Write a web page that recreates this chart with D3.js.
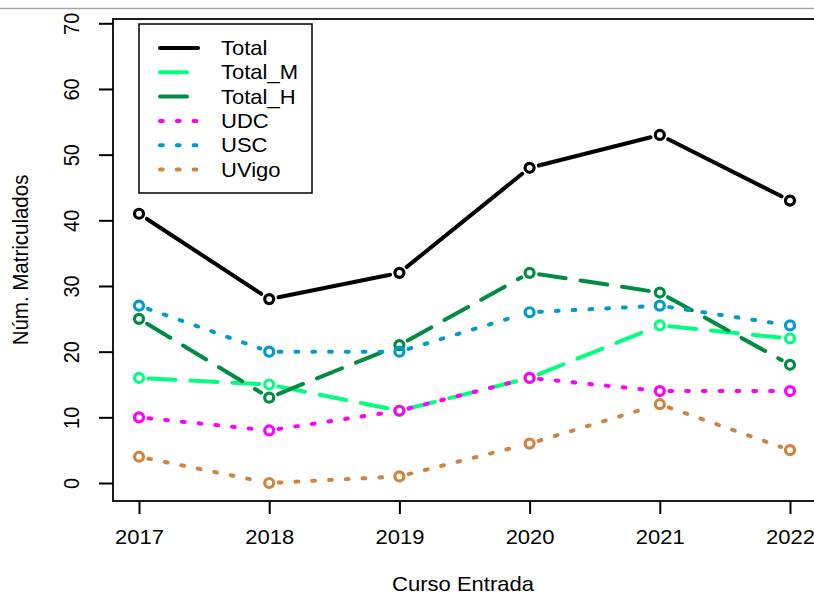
<!DOCTYPE html>
<html><head><meta charset="utf-8">
<script src="https://cdn.jsdelivr.net/npm/d3@7"></script>
<style>body{margin:0;background:#fff}svg{display:block}text{font-family:"Liberation Sans",Arial,sans-serif;fill:#000}</style>
</head><body><svg id="c" width="814" height="595"></svg>
<script>
const years = [2017, 2018, 2019, 2020, 2021, 2022];
const total   = [41, 28, 32, 48, 53, 43];
const totalM  = [16, 15, 11, 16, 24, 22];
const totalH  = [25, 13, 21, 32, 29, 18];
const udc     = [10, 8, 11, 16, 14, 14];
const usc     = [27, 20, 20, 26, 27, 24];
const uvigo   = [4, 0, 1, 6, 12, 5];
const yTicks  = [0, 10, 20, 30, 40, 50, 60, 70];
const seriesNames = ["Total", "Total_M", "Total_H", "UDC", "USC", "UVigo"];

const series = [
  {name: seriesNames[0], values: total,  color: "#000000", dash: null},
  {name: seriesNames[1], values: totalM, color: "#00FF7F", dash: "27,15"},
  {name: seriesNames[2], values: totalH, color: "#008B45", dash: "27,15"},
  {name: seriesNames[3], values: udc,    color: "#FF00FF", dash: "2.8,14"},
  {name: seriesNames[4], values: usc,    color: "#009ACD", dash: "2.8,14"},
  {name: seriesNames[5], values: uvigo,  color: "#CD853F", dash: "2.8,14"}
];

const SX = 1.1;      // horizontal stretch of the reference text
const FS = "20px";

const svg = d3.select("#c");
const L = 113, R = 816, T = 19, B = 501;
const x = d3.scaleLinear().domain([2017, 2022]).range([139, 790]);
const y = d3.scaleLinear().domain([0, 70]).range([483, 23.3]);

function hText(parent, tx, ty, str, anchor) {
  return parent.append("text")
    .attr("transform", `translate(${tx},${ty}) scale(${SX},1)`)
    .attr("text-anchor", anchor || "start")
    .style("font-size", FS).text(str);
}

// top gray line
svg.append("line").attr("x1",0).attr("x2",814).attr("y1",8.5).attr("y2",8.5).attr("stroke","#a8a8a8").attr("stroke-width",1.5);

// box
svg.append("rect").attr("x",L).attr("y",T).attr("width",R-L).attr("height",B-T)
  .attr("fill","none").attr("stroke","#1a1a1a").attr("stroke-width",2);

// y axis
const yAxis = d3.axisLeft(y).tickValues(yTicks).tickSize(14).tickSizeOuter(0).tickFormat(d3.format("d"));
const gy = svg.append("g").attr("transform",`translate(${L},0)`).call(yAxis);
gy.select(".domain").remove();
gy.selectAll(".tick line").attr("stroke","#000").attr("stroke-width",2);
gy.selectAll(".tick text").attr("x",null).attr("dy",null)
  .attr("transform",`translate(${79-L},0) scale(${SX},1) rotate(-90)`)
  .attr("text-anchor","middle").style("font-size",FS).style("font-family","Liberation Sans, Arial, sans-serif");

// x axis
const xAxis = d3.axisBottom(x).tickValues(years).tickSize(13).tickSizeOuter(0).tickFormat(d3.format("d"));
const gx = svg.append("g").attr("transform",`translate(0,${B})`).call(xAxis);
gx.select(".domain").remove();
gx.selectAll(".tick line").attr("stroke","#000").attr("stroke-width",2);
gx.selectAll(".tick text").attr("y",null).attr("dy",null)
  .attr("transform",`translate(0,43) scale(${SX},1)`)
  .style("font-size",FS).style("font-family","Liberation Sans, Arial, sans-serif");

// titles
hText(svg, 463, 591, "Curso Entrada", "middle");
svg.append("text").attr("transform",`translate(28,260) scale(${SX},1) rotate(-90)`).attr("text-anchor","middle")
  .style("font-size","20.5px").text("Núm. Matriculados");

// series (type "b": lines with gaps at points)
const gap = 9.5;
series.forEach(s => {
  const g = svg.append("g");
  for (let i = 0; i < years.length - 1; i++) {
    const x1 = x(years[i]), y1 = y(s.values[i]), x2 = x(years[i+1]), y2 = y(s.values[i+1]);
    const dx = x2 - x1, dy = y2 - y1, len = Math.hypot(dx, dy);
    if (len <= 2 * gap) continue;
    const ux = dx / len, uy = dy / len;
    g.append("line")
      .attr("x1", x1 + ux*gap).attr("y1", y1 + uy*gap)
      .attr("x2", x2 - ux*gap).attr("y2", y2 - uy*gap)
      .attr("stroke", s.color).attr("stroke-width", 4).attr("stroke-linecap","round")
      .attr("stroke-dasharray", s.dash);
  }
  g.selectAll("circle").data(s.values).join("circle")
    .attr("cx", (d,i) => x(years[i])).attr("cy", d => y(d)).attr("r", 4.5)
    .attr("fill","none").attr("stroke", s.color).attr("stroke-width", 3.2);
});

// legend
const lg = svg.append("g");
lg.append("rect").attr("x",139).attr("y",24).attr("width",173).attr("height",169)
  .attr("fill","#fff").attr("stroke","#000").attr("stroke-width",1.5);
series.forEach((s, i) => {
  const yy = 48 + i * 24.3;
  lg.append("line").attr("x1",160).attr("x2",198).attr("y1",yy).attr("y2",yy)
    .attr("stroke", s.color).attr("stroke-width",4).attr("stroke-linecap","round").attr("stroke-dasharray", s.dash);
  hText(lg, 221, yy + 7, s.name);
});
</script></body></html>
